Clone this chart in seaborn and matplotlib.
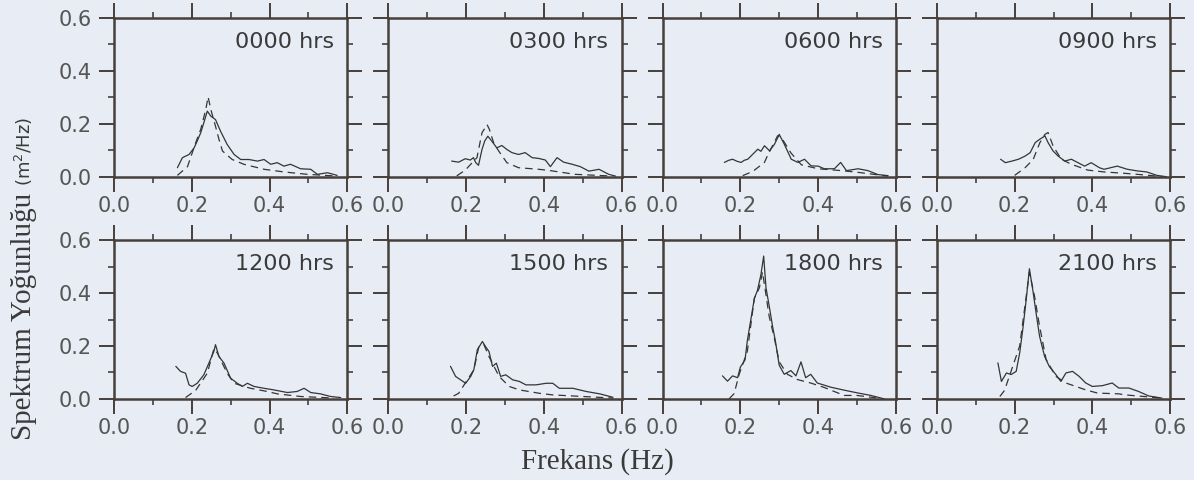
"""
Observed vs model wave spectra at 3-hour intervals (2x4 panel figure)
"""

import pandas as pd
import matplotlib
matplotlib.use("Agg")
import matplotlib.pyplot as plt
from matplotlib.ticker import MultipleLocator
import seaborn as sns

hours = ["0000", "0300", "0600", "0900", "1200", "1500", "1800", "2100"]

# Observed spectra (solid lines): frequency (Hz) and density (m2/Hz)
obs_f_0000 = [0.163, 0.176, 0.193, 0.206, 0.214, 0.223, 0.231, 0.240, 0.249, 0.261, 0.274, 0.291, 0.309,
              0.326, 0.347, 0.369, 0.386, 0.403, 0.420, 0.437, 0.454, 0.480, 0.506, 0.523, 0.549, 0.574]
obs_s_0000 = [0.034, 0.072, 0.084, 0.109, 0.135, 0.166, 0.204, 0.248, 0.229, 0.216, 0.172, 0.122, 0.084,
              0.065, 0.065, 0.059, 0.065, 0.047, 0.053, 0.040, 0.047, 0.030, 0.028, 0.009, 0.015, 0.005]

obs_f_0300 = [0.163, 0.181, 0.198, 0.211, 0.219, 0.225, 0.232, 0.241, 0.248, 0.256, 0.266, 0.279, 0.292, 0.305, 0.318,
              0.335, 0.352, 0.370, 0.387, 0.404, 0.417, 0.434, 0.451, 0.473, 0.494, 0.516, 0.542, 0.567, 0.585]
obs_s_0300 = [0.059, 0.055, 0.068, 0.063, 0.072, 0.053, 0.043, 0.103, 0.135, 0.153, 0.135, 0.109, 0.118, 0.103, 0.091,
              0.084, 0.091, 0.072, 0.069, 0.063, 0.038, 0.072, 0.055, 0.047, 0.038, 0.021, 0.028, 0.009, 0.002]

obs_f_0600 = [0.159, 0.170, 0.180, 0.192, 0.202, 0.210, 0.219, 0.232, 0.245, 0.253, 0.262, 0.275, 0.288, 0.300, 0.313,
              0.331, 0.348, 0.365, 0.382, 0.400, 0.416, 0.442, 0.458, 0.473, 0.503, 0.528, 0.554, 0.580]
obs_s_0600 = [0.054, 0.062, 0.066, 0.058, 0.054, 0.062, 0.066, 0.085, 0.104, 0.096, 0.117, 0.098, 0.123, 0.160, 0.123,
              0.066, 0.054, 0.066, 0.041, 0.040, 0.030, 0.030, 0.054, 0.023, 0.030, 0.023, 0.008, 0.004]

obs_f_0900 = [0.164, 0.176, 0.193, 0.210, 0.227, 0.240, 0.253, 0.265, 0.278, 0.286, 0.299, 0.312, 0.329,
              0.346, 0.363, 0.380, 0.397, 0.418, 0.430, 0.464, 0.490, 0.515, 0.540, 0.566, 0.590]
obs_s_0900 = [0.066, 0.053, 0.059, 0.066, 0.078, 0.091, 0.129, 0.142, 0.154, 0.129, 0.097, 0.078, 0.059,
              0.066, 0.053, 0.040, 0.053, 0.034, 0.028, 0.040, 0.028, 0.022, 0.018, 0.005, 0.000]

obs_f_1200 = [0.159, 0.171, 0.184, 0.193, 0.201, 0.214, 0.231, 0.244, 0.257, 0.261, 0.270, 0.283, 0.300,
              0.317, 0.330, 0.343, 0.360, 0.386, 0.411, 0.446, 0.471, 0.489, 0.506, 0.531, 0.557, 0.583]
obs_s_1200 = [0.123, 0.104, 0.097, 0.053, 0.047, 0.059, 0.091, 0.135, 0.180, 0.205, 0.160, 0.135, 0.078,
              0.059, 0.047, 0.059, 0.047, 0.040, 0.034, 0.024, 0.028, 0.040, 0.024, 0.019, 0.009, 0.005]

obs_f_1500 = [0.160, 0.173, 0.186, 0.199, 0.212, 0.220, 0.229, 0.242, 0.250, 0.259, 0.268, 0.278, 0.289,
              0.302, 0.320, 0.337, 0.354, 0.380, 0.406, 0.423, 0.440, 0.475, 0.509, 0.544, 0.578]
obs_s_1500 = [0.123, 0.085, 0.072, 0.059, 0.085, 0.110, 0.186, 0.217, 0.198, 0.179, 0.123, 0.135, 0.085,
              0.091, 0.072, 0.066, 0.053, 0.053, 0.059, 0.059, 0.040, 0.040, 0.028, 0.019, 0.006]

obs_f_1800 = [0.154, 0.167, 0.180, 0.193, 0.200, 0.212, 0.218, 0.227, 0.236, 0.244, 0.253, 0.260, 0.266, 0.274, 0.283,
              0.290, 0.300, 0.313, 0.330, 0.343, 0.356, 0.368, 0.381, 0.398, 0.433, 0.467, 0.500, 0.536, 0.570]
obs_s_1800 = [0.087, 0.067, 0.087, 0.080, 0.120, 0.147, 0.220, 0.300, 0.380, 0.410, 0.470, 0.540, 0.420, 0.353, 0.273,
              0.220, 0.127, 0.093, 0.107, 0.087, 0.140, 0.080, 0.093, 0.060, 0.044, 0.033, 0.023, 0.013, 0.000]

obs_f_2100 = [0.157, 0.166, 0.179, 0.191, 0.204, 0.213, 0.221, 0.230, 0.238, 0.247, 0.255, 0.264, 0.277, 0.289,
              0.306, 0.319, 0.332, 0.349, 0.366, 0.383, 0.400, 0.426, 0.451, 0.468, 0.494, 0.519, 0.545, 0.579]
obs_s_2100 = [0.136, 0.066, 0.098, 0.092, 0.104, 0.174, 0.263, 0.378, 0.492, 0.409, 0.327, 0.238, 0.161, 0.123,
              0.092, 0.066, 0.098, 0.104, 0.085, 0.060, 0.047, 0.050, 0.060, 0.041, 0.041, 0.028, 0.011, 0.003]

# Model spectra (dashed lines)
mod_f_0000 = [0.163, 0.189, 0.210, 0.223, 0.236, 0.242, 0.249, 0.261, 0.270, 0.279, 0.304, 0.334, 0.386, 0.437, 0.497, 0.566]
mod_s_0000 = [0.005, 0.038, 0.128, 0.179, 0.254, 0.302, 0.254, 0.191, 0.141, 0.097, 0.065, 0.047, 0.028, 0.018, 0.009, 0.003]

mod_f_0300 = [0.176, 0.198, 0.228, 0.241, 0.254, 0.260, 0.271, 0.284, 0.305, 0.335, 0.387, 0.412, 0.480, 0.567]
mod_s_0300 = [0.003, 0.025, 0.072, 0.166, 0.197, 0.179, 0.128, 0.097, 0.053, 0.034, 0.028, 0.024, 0.009, 0.003]

mod_f_0600 = [0.206, 0.232, 0.262, 0.270, 0.296, 0.309, 0.330, 0.357, 0.400, 0.460, 0.500, 0.580]
mod_s_0600 = [0.004, 0.020, 0.054, 0.080, 0.155, 0.140, 0.090, 0.045, 0.030, 0.023, 0.017, 0.002]

mod_f_0900 = [0.200, 0.227, 0.248, 0.265, 0.278, 0.286, 0.299, 0.320, 0.346, 0.388, 0.430, 0.481, 0.515, 0.583]
mod_s_0900 = [0.005, 0.034, 0.066, 0.129, 0.160, 0.167, 0.116, 0.066, 0.047, 0.025, 0.018, 0.013, 0.009, 0.000]

mod_f_1200 = [0.184, 0.210, 0.240, 0.257, 0.266, 0.291, 0.309, 0.351, 0.394, 0.420, 0.480, 0.566]
mod_s_1200 = [0.005, 0.032, 0.097, 0.190, 0.173, 0.097, 0.059, 0.040, 0.028, 0.019, 0.009, 0.003]

mod_f_1500 = [0.168, 0.181, 0.220, 0.233, 0.246, 0.259, 0.285, 0.311, 0.337, 0.389, 0.423, 0.475, 0.578]
mod_s_1500 = [0.011, 0.021, 0.110, 0.198, 0.205, 0.160, 0.085, 0.047, 0.034, 0.021, 0.015, 0.011, 0.003]

mod_f_1800 = [0.171, 0.184, 0.197, 0.218, 0.236, 0.249, 0.257, 0.266, 0.274,
              0.287, 0.300, 0.321, 0.347, 0.381, 0.416, 0.467, 0.500, 0.570]
mod_s_1800 = [0.000, 0.020, 0.093, 0.180, 0.380, 0.420, 0.480, 0.393, 0.313,
              0.233, 0.140, 0.093, 0.073, 0.060, 0.043, 0.013, 0.013, 0.000]

mod_f_2100 = [0.162, 0.174, 0.213, 0.230, 0.238, 0.251, 0.264, 0.281, 0.306, 0.332, 0.383, 0.413, 0.468, 0.485, 0.579]
mod_s_2100 = [0.009, 0.032, 0.200, 0.390, 0.479, 0.390, 0.276, 0.149, 0.085, 0.060, 0.034, 0.022, 0.019, 0.015, 0.003]

obs_f = [obs_f_0000, obs_f_0300, obs_f_0600, obs_f_0900, obs_f_1200, obs_f_1500, obs_f_1800, obs_f_2100]
obs_s = [obs_s_0000, obs_s_0300, obs_s_0600, obs_s_0900, obs_s_1200, obs_s_1500, obs_s_1800, obs_s_2100]
mod_f = [mod_f_0000, mod_f_0300, mod_f_0600, mod_f_0900, mod_f_1200, mod_f_1500, mod_f_1800, mod_f_2100]
mod_s = [mod_s_0000, mod_s_0300, mod_s_0600, mod_s_0900, mod_s_1200, mod_s_1500, mod_s_1800, mod_s_2100]

# Long-form table for seaborn
rows = []
for i, h in enumerate(hours):
    for f, s in zip(obs_f[i], obs_s[i]):
        rows.append((h, "obs", f, s))
    for f, s in zip(mod_f[i], mod_s[i]):
        rows.append((h, "mod", f, s))
df = pd.DataFrame(rows, columns=["hour", "kind", "f", "S"])

# Colours of the scanned page
paper = "#e8ecf4"
ink = "#463f3a"
line_col = "#353535"
label_col = "#555555"

sns.set_theme(style="ticks")
plt.rcParams["font.family"] = ["DejaVu Sans"]

fig, axes = plt.subplots(2, 4, figsize=(11.94, 4.8), dpi=100)
fig.patch.set_facecolor(paper)
fig.subplots_adjust(left=0.0955, right=0.98, top=0.9625, bottom=0.169, wspace=0.176, hspace=0.40)

for k, (ax, h) in enumerate(zip(axes.flat, hours)):
    sub = df[df["hour"] == h]
    sns.lineplot(data=sub, x="f", y="S", style="kind", style_order=["obs", "mod"],
                 dashes={"obs": "", "mod": (6, 4)}, color=line_col, linewidth=0.9,
                 estimator=None, sort=False, legend=False, ax=ax)

    ax.set_facecolor(paper)
    ax.set_xlim(0, 0.6)
    ax.set_ylim(0, 0.6)
    ax.xaxis.set_major_locator(MultipleLocator(0.2))
    ax.xaxis.set_minor_locator(MultipleLocator(0.1))
    ax.yaxis.set_major_locator(MultipleLocator(0.2))
    ax.yaxis.set_minor_locator(MultipleLocator(0.1))
    ax.set_xlabel("")
    ax.set_ylabel("")

    for sp in ax.spines.values():
        sp.set_visible(True)
        sp.set_color(ink)
        sp.set_linewidth(1.8)

    ax.tick_params(which="both", direction="out", top=True, right=True, color=ink,
                   labelcolor=label_col, labelsize=15)
    ax.tick_params(which="major", length=11, width=1.4)
    ax.tick_params(which="minor", length=4.5, width=1.2)
    ax.tick_params(axis="x", pad=3)
    ax.tick_params(axis="y", pad=5)
    if k % 4 != 0:
        ax.tick_params(labelleft=False)

    ax.text(0.944, 0.85, f"{h} hrs", transform=ax.transAxes, ha="right", va="center",
            fontsize=16, color="#3a3a3a")

# Axis titles: serif body with a sans unit part, like the scan
fig.text(0.5, 0.039, "Frekans (Hz)", ha="center", va="center", fontsize=21,
         family="Liberation Serif", color="#3a3a3a")
fig.text(24 / 1194, 1 - 440 / 480, "Spektrum Yoğunluğu", rotation=90, ha="center", va="bottom",
         fontsize=21, family="Liberation Serif", color="#3a3a3a")
fig.text(24 / 1194, 1 - 186 / 480, "(m$^2$/Hz)", rotation=90, ha="center", va="bottom",
         fontsize=13, color="#3a3a3a")

fig.savefig("out.png", dpi=100, facecolor=paper)
plt.close(fig)
